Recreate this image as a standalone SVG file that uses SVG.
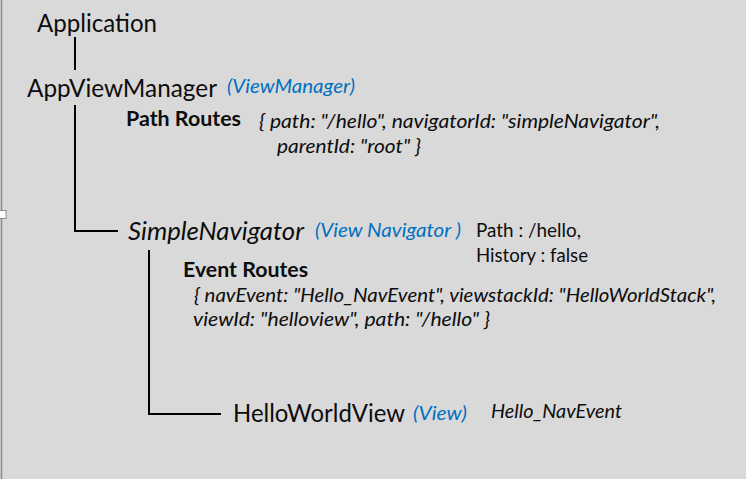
<svg xmlns="http://www.w3.org/2000/svg" width="746" height="479" viewBox="0 0 746 479">
<style>
text{font-family:Lato,"Open Sans","Liberation Sans",sans-serif;fill:#0d0d0d}
.big{font-size:24.5px}
.blue{font-size:20px;font-style:italic;fill:#0070c0}
.bold{font-size:21px;font-weight:bold}
.code{font-size:18.5px;font-style:italic}
.small{font-size:19.5px}
.conn{stroke:#000;stroke-width:2;fill:none}
</style>
<rect x="0" y="0" width="746" height="479" fill="#d9d9d9"/>
<line x1="1.5" y1="0" x2="1.5" y2="479" stroke="#8c8c8c" stroke-width="1.5"/>
<rect x="-1" y="210.5" width="7" height="8" fill="#fff" stroke="#8c8c8c" stroke-width="1"/>
<g id="connectors">
<path class="conn" d="M75 37V70"/>
<path class="conn" d="M75 105V231H118"/>
<path class="conn" d="M149 250V414H221"/>
</g>
<g id="application">
<text class="big" x="37" y="32" textLength="120" lengthAdjust="spacingAndGlyphs">Application</text>
</g>
<g id="appviewmanager">
<text class="big" x="27" y="97" textLength="190" lengthAdjust="spacingAndGlyphs">AppViewManager</text>
<text class="blue" x="227" y="93" textLength="128" lengthAdjust="spacingAndGlyphs">(ViewManager)</text>
</g>
<g id="path-routes">
<text class="bold" x="126" y="126" textLength="115" lengthAdjust="spacingAndGlyphs">Path Routes</text>
<text class="code" x="259" y="128" textLength="401" lengthAdjust="spacingAndGlyphs">{ path: "/hello", navigatorId: "simpleNavigator",</text>
<text class="code" x="277" y="153" textLength="144" lengthAdjust="spacingAndGlyphs">parentId: "root" }</text>
</g>
<g id="simplenavigator">
<text class="big" x="128" y="240" font-style="italic" textLength="176" lengthAdjust="spacingAndGlyphs">SimpleNavigator</text>
<text class="blue" x="315" y="237" textLength="146" lengthAdjust="spacingAndGlyphs">(View Navigator )</text>
<text class="small" x="476" y="237" textLength="105" lengthAdjust="spacingAndGlyphs">Path : /hello,</text>
<text class="small" x="476" y="262" textLength="112" lengthAdjust="spacingAndGlyphs">History : false</text>
</g>
<g id="event-routes">
<text class="bold" x="183" y="277" textLength="125" lengthAdjust="spacingAndGlyphs">Event Routes</text>
<text class="code" x="194" y="302" textLength="522" lengthAdjust="spacingAndGlyphs">{ navEvent: "Hello_NavEvent", viewstackId: "HelloWorldStack",</text>
<text class="code" x="193" y="326" textLength="297" lengthAdjust="spacingAndGlyphs">viewId: "helloview", path: "/hello" }</text>
</g>
<g id="helloworldview">
<text class="big" x="233" y="422" textLength="172" lengthAdjust="spacingAndGlyphs">HelloWorldView</text>
<text class="blue" x="413" y="420" textLength="54" lengthAdjust="spacingAndGlyphs">(View)</text>
<text class="code" x="491" y="418" font-size="19px" textLength="131" lengthAdjust="spacingAndGlyphs">Hello_NavEvent</text>
</g>
</svg>
